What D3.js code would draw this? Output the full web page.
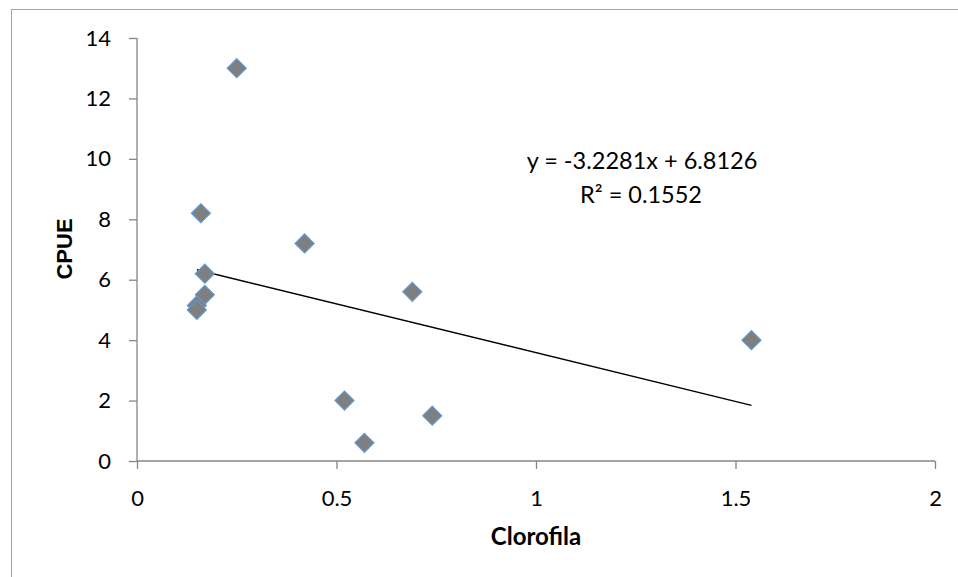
<!DOCTYPE html>
<html>
<head>
<meta charset="utf-8">
<script src="https://cdn.jsdelivr.net/npm/d3@7"></script>
<style>
  html, body { margin: 0; padding: 0; background: #fff; }
  svg { display: block; }
</style>
</head>
<body>
<svg id="chart" width="958" height="577"></svg>
<script>
// ---- data ----
const clorofila = [0.25, 0.16, 0.42, 0.17, 0.17, 0.15, 0.15, 0.69, 0.52, 0.74, 0.57, 1.54];
const cpue      = [13.0, 8.2, 7.2, 6.2, 5.5, 5.15, 5.0, 5.6, 2.0, 1.5, 0.6, 4.0];
const xTicks = [0, 0.5, 1, 1.5, 2];
const yTicks = [0, 2, 4, 6, 8, 10, 12, 14];
const trendSlope = -3.2281;
const trendIntercept = 6.8126;
const equationText = "y = -3.2281x + 6.8126";
const r2Value = "0.1552";
const xTitle = "Clorofila";
const yTitle = "CPUE";

// ---- layout ----
const svg = d3.select("#chart");
const x = d3.scaleLinear().domain([0, 2]).range([137, 935]);
const y = d3.scaleLinear().domain([0, 14]).range([461, 38]);
const axisColor = "#868686";
const tickFont = "Lato, 'Open Sans', sans-serif";

// outer chart border
svg.append("rect")
  .attr("x", 11.5).attr("y", 9.5)
  .attr("width", 960).attr("height", 580)
  .attr("fill", "none").attr("stroke", "#a6a6a6").attr("stroke-width", 1);

// y axis
const yAxis = svg.append("g")
  .attr("transform", `translate(${x(0)},0)`)
  .call(d3.axisLeft(y).tickValues(yTicks).tickSize(8).tickPadding(18).tickFormat(d3.format("d")));
// x axis
const xAxis = svg.append("g")
  .attr("transform", `translate(0,${y(0)})`)
  .call(d3.axisBottom(x).tickValues(xTicks).tickSize(8).tickPadding(21).tickFormat(d => String(d)));

[yAxis, xAxis].forEach(g => {
  g.select(".domain").attr("stroke", axisColor).attr("stroke-width", 1.3);
  g.selectAll(".tick line").attr("stroke", axisColor).attr("stroke-width", 1.3);
  g.selectAll(".tick text")
    .attr("fill", "#000")
    .style("font-family", tickFont)
    .style("font-size", "22px");
});
yAxis.select(".domain").attr("d", `M0,${y(14)}V${y(0)}`);
xAxis.select(".domain").attr("d", `M${x(0)},0H${x(2)}`);

// trendline
const xMin = d3.min(clorofila), xMax = d3.max(clorofila);
svg.append("line")
  .attr("x1", x(xMin)).attr("y1", y(trendSlope * xMin + trendIntercept))
  .attr("x2", x(xMax)).attr("y2", y(trendSlope * xMax + trendIntercept))
  .attr("stroke", "#000").attr("stroke-width", 1.5);

// points (diamonds)
const pts = clorofila.map((v, i) => ({ cx: v, cy: cpue[i] }));
const r = 9.5;
svg.append("g").selectAll("path")
  .data(pts)
  .join("path")
  .attr("d", d => `M${x(d.cx)},${y(d.cy) - r}L${x(d.cx) + r},${y(d.cy)}L${x(d.cx)},${y(d.cy) + r}L${x(d.cx) - r},${y(d.cy)}Z`)
  .attr("fill", "#7f7f7f")
  .attr("stroke", "#5b9bd5")
  .attr("stroke-width", 1.2);

// equation
svg.append("text")
  .attr("x", 642).attr("y", 169)
  .attr("text-anchor", "middle")
  .style("font-family", tickFont).style("font-size", "23.5px")
  .text(equationText);
const r2 = svg.append("text")
  .attr("x", 641).attr("y", 203)
  .attr("text-anchor", "middle")
  .style("font-family", tickFont).style("font-size", "23.5px");
r2.append("tspan").text("R");
r2.append("tspan").text("²");
r2.append("tspan").text(" = " + r2Value);

// axis titles
svg.append("text")
  .attr("x", x(1)).attr("y", 545)
  .attr("text-anchor", "middle")
  .style("font-family", tickFont).style("font-size", "24px").style("font-weight", "bold")
  .text(xTitle);
svg.append("text")
  .attr("transform", `translate(72,249) rotate(-90)`)
  .attr("text-anchor", "middle")
  .style("font-family", "'Liberation Sans', Arial, sans-serif").style("font-size", "22px").style("font-weight", "bold")
  .text(yTitle);
</script>
</body>
</html>
